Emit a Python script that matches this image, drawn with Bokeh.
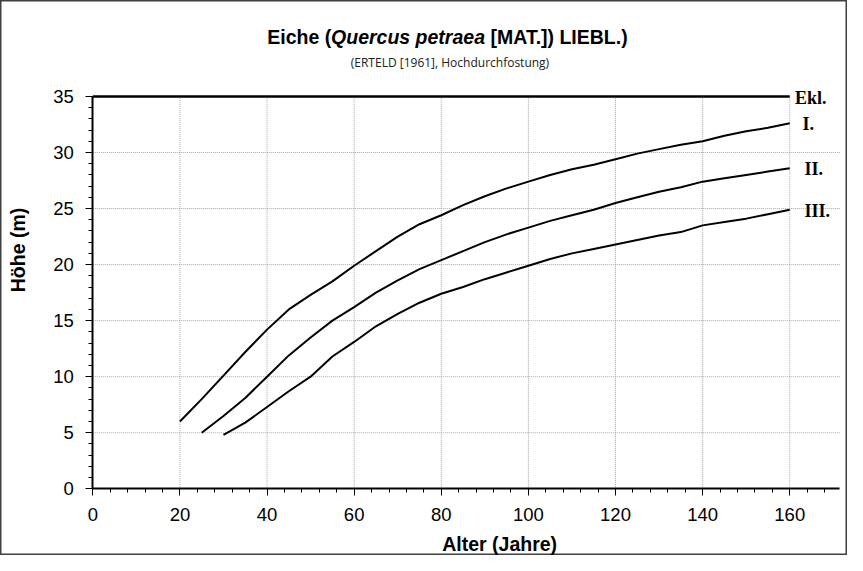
from bokeh.plotting import figure
from bokeh.models import Range1d, FixedTicker, Label
from bokeh.embed import file_html
from bokeh.resources import INLINE

# ---- data (Erteld 1961, Hochdurchforstung) ----
age_I = [20, 25, 30, 35, 40, 45, 50, 55, 60, 65, 70, 75, 80, 85, 90, 95, 100,
         105, 110, 115, 120, 125, 130, 135, 140, 145, 150, 155, 160]
height_I = [6.0, 8.0, 10.1, 12.2, 14.2, 16.0, 17.3, 18.5, 19.9, 21.2, 22.5, 23.6, 24.4,
            25.3, 26.1, 26.8, 27.4, 28.0, 28.5, 28.9, 29.4, 29.9, 30.3, 30.7, 31.0,
            31.5, 31.9, 32.2, 32.6]

age_II = [25, 30, 35, 40, 45, 50, 55, 60, 65, 70, 75, 80, 85, 90, 95, 100,
          105, 110, 115, 120, 125, 130, 135, 140, 145, 150, 155, 160]
height_II = [5.0, 6.5, 8.1, 10.0, 11.9, 13.5, 15.0, 16.2, 17.5, 18.6, 19.6, 20.4,
             21.2, 22.0, 22.7, 23.3, 23.9, 24.4, 24.9, 25.5, 26.0, 26.5, 26.9, 27.4,
             27.7, 28.0, 28.3, 28.6]

age_III = [30, 35, 40, 45, 50, 55, 60, 65, 70, 75, 80, 85, 90, 95, 100,
           105, 110, 115, 120, 125, 130, 135, 140, 145, 150, 155, 160]
height_III = [4.8, 5.9, 7.3, 8.7, 10.0, 11.8, 13.1, 14.5, 15.6, 16.6, 17.4, 18.0,
              18.7, 19.3, 19.9, 20.5, 21.0, 21.4, 21.8, 22.2, 22.6, 22.9, 23.5,
              23.8, 24.1, 24.5, 24.9]

age_Ekl = [0, 160]
height_Ekl = [35, 35]

class_labels = ["Ekl.", "I.", "II.", "III."]
x_ticks = [0, 20, 40, 60, 80, 100, 120, 140, 160]
x_minor = list(range(0, 172, 4))
y_ticks = [0, 5, 10, 15, 20, 25, 30, 35]
y_minor = list(range(0, 36))
x_axis_max = 171.5
y_axis_max = 35

title_parts = ["Eiche (", "Quercus petraea", "[MAT.]) LIEBL.)"]
subtitle = "(ERTELD  [1961], Hochdurchfostung)"
x_label = "Alter (Jahre)"
y_label = "Höhe (m)"

# ---- figure: the frame fills the whole canvas, axes sit at x=0 / y=0 ----
W, H = 847, 555
x0_px, sx = 92.3, 4.356     # pixel of age 0, px per year
y0_px, sy = 488.3, 11.21    # pixel of height 0 (from top), px per metre
p = figure(width=W, height=H, output_backend="svg", toolbar_location=None,
           x_range=Range1d(-x0_px / sx, (W - x0_px) / sx),
           y_range=Range1d((y0_px - H) / sy, y0_px / sy),
           min_border_left=0, min_border_right=0, min_border_top=0, min_border_bottom=0)
p.outline_line_color = "#404040"
p.outline_line_width = 2
p.background_fill_color = "white"
p.border_fill_color = "white"

for ax, tk, mn, bd in ((p.xaxis[0], x_ticks, x_minor, (0, x_axis_max)),
                       (p.yaxis[0], y_ticks, y_minor, (0, y_axis_max))):
    ax.fixed_location = 0
    ax.bounds = bd
    ax.ticker = FixedTicker(ticks=tk, minor_ticks=mn)
    ax.axis_line_width = 2
    ax.axis_line_color = "black"
    ax.major_tick_line_color = "black"
    ax.minor_tick_line_color = "black"
    ax.major_tick_out = 7
    ax.major_tick_in = 0
    ax.minor_tick_out = 4
    ax.minor_tick_in = 0
    ax.major_label_text_font = "Liberation Sans"
    ax.major_label_text_font_size = "18.5px"
    ax.major_label_text_color = "black"
p.xaxis.major_label_standoff = 12
p.yaxis.major_label_standoff = 12

# dotted grid, limited to the plot area (0..171.5 x 0..35)
p.xgrid.visible = False
p.ygrid.visible = False
gx = x_ticks[1:]
p.segment(x0=gx, y0=[0] * len(gx), x1=gx, y1=[y_axis_max] * len(gx),
          line_color="#a8a8a8", line_dash="1 1", line_width=1, level="underlay")
gy = y_ticks[1:-1]
p.segment(x0=[0] * len(gy), y0=gy, x1=[x_axis_max] * len(gy), y1=gy,
          line_color="#a8a8a8", line_dash="1 1", line_width=1, level="underlay")

p.line(age_Ekl, height_Ekl, line_color="black", line_width=2.5)
for xs, ys in ((age_I, height_I), (age_II, height_II), (age_III, height_III)):
    p.line(xs, ys, line_color="black", line_width=2)

# end-of-curve class labels
end_x = [161.2, 162.9, 163.4, 163.4]
end_y = [height_Ekl[-1], height_I[-1], height_II[-1], height_III[-1]]
for t, xx, yy in zip(class_labels, end_x, end_y):
    p.add_layout(Label(x=xx, y=yy - 0.1, text=t, text_font="Liberation Serif",
                       text_font_style="bold", text_font_size="18px",
                       text_color="black", text_align="left", text_baseline="middle"))

# title (mixed styles)
title_x = [40.04, 54.7, 91.3]
title_styles = ["bold", "bold italic", "bold"]
for t, xx, st in zip(title_parts, title_x, title_styles):
    p.add_layout(Label(x=xx, y=40.3, text=t, text_font="Liberation Sans",
                       text_font_style=st, text_font_size="19.5px", text_color="black",
                       text_align="left", text_baseline="alphabetic"))

p.add_layout(Label(x=82.35, y=38.0, text=subtitle, text_font="Open Sans",
                   text_font_size="12px", text_color="#202020",
                   text_align="center", text_baseline="alphabetic"))

p.add_layout(Label(x=93.4, y=-4.9, text=x_label, text_font="Liberation Sans",
                   text_font_style="bold", text_font_size="19.5px", text_color="black",
                   text_align="center", text_baseline="middle"))
p.add_layout(Label(x=-17.2, y=21.3, text=y_label, text_font="Liberation Sans",
                   text_font_style="bold", text_font_size="19.5px", text_color="black",
                   text_align="center", text_baseline="middle", angle=1.5707963))

open("out.html", "w").write(file_html(p, INLINE))
